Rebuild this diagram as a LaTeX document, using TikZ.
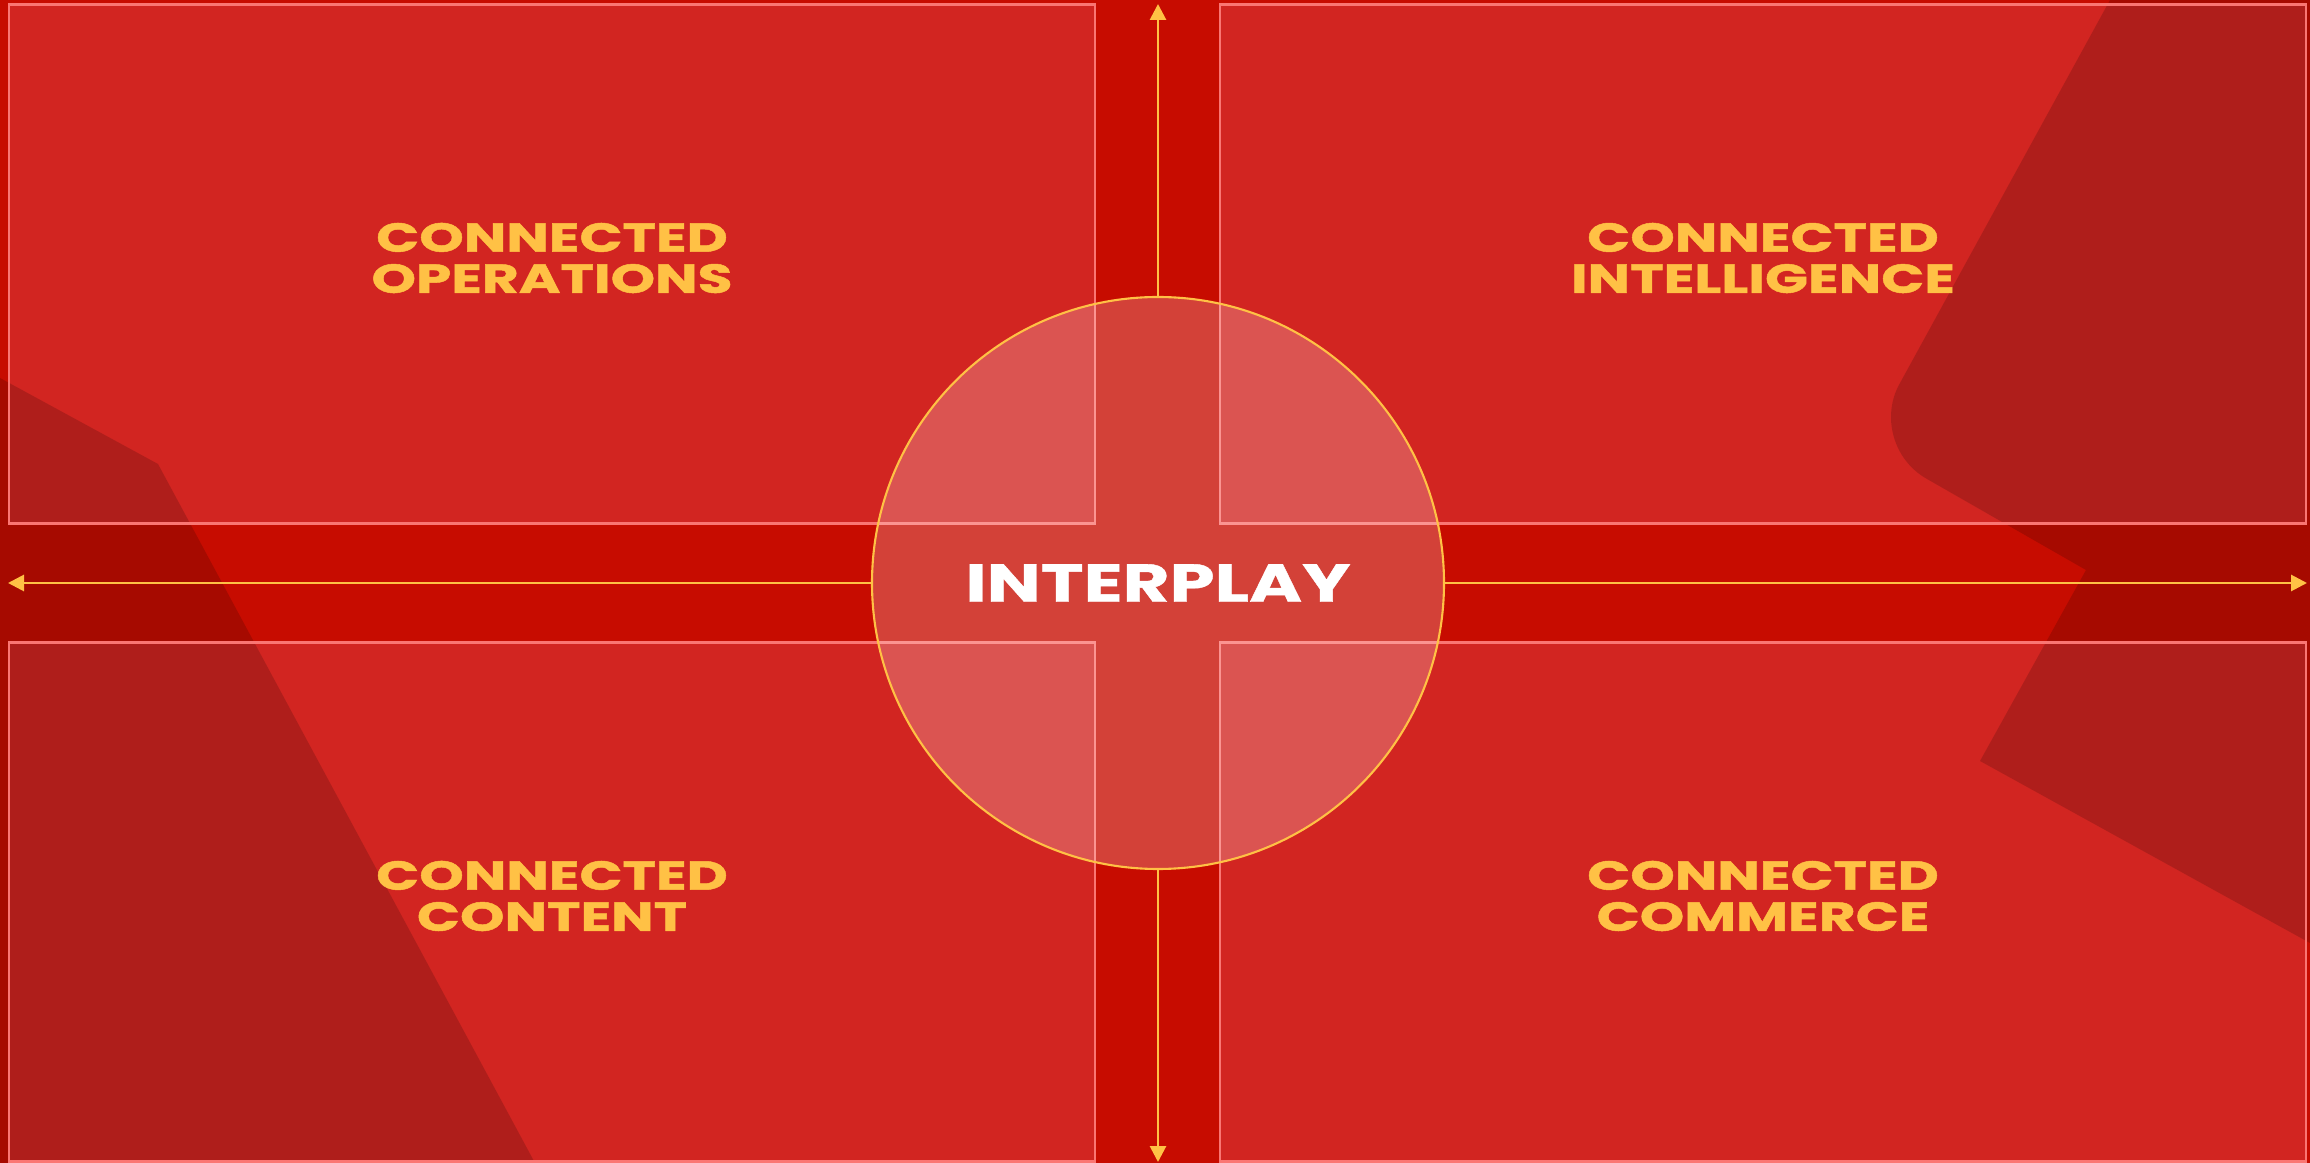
\documentclass[tikz,border=0pt]{standalone}
\usepackage{xcolor}
\usepackage{fontspec}
\usepackage{tikz}
\usetikzlibrary{arrows.meta, backgrounds}
\newfontfamily\panelfont{Poppins}[FakeStretch=1.40, FakeBold=1.2]
\newfontfamily\hubfont{Poppins}[FakeStretch=1.35, FakeBold=0.8]
\definecolor{basered}{RGB}{199, 12, 0}
\definecolor{panelred}{RGB}{210, 37, 33}
\definecolor{edgepink}{RGB}{250, 118, 115}
\definecolor{gold}{RGB}{255, 193, 69}
\tikzset{
    panel/.style = {rectangle, draw=edgepink, line width=0.7pt, minimum width=108.6mm, minimum height=51.9mm},
    paneltext/.style = {align=center, text=gold, font=\panelfont\bfseries\fontsize{11.5}{11.7}\selectfont},
    hub/.style = {circle, draw=gold, line width=0.6pt, fill=white, fill opacity=0.22, text opacity=1, minimum size=57.2mm, inner sep=0pt, text=white, font=\hubfont\bfseries\fontsize{15.2}{18}\selectfont},
    arrow/.style = {draw=gold, line width=0.8pt, -{Triangle[length=1.6mm, width=1.6mm]}},
    darkpatch/.style = {fill=black, fill opacity=0.165}
}

\begin{document}
\begin{tikzpicture}[x=0.1mm, y=-0.1mm]
\useasboundingbox (0,0) rectangle (2310,1163);
\node (A) [panel] at (552,264) {};
\node (B) [panel] at (1763,264) {};
\node (C) [panel] at (552,902) {};
\node (D) [panel] at (1763,902) {};
\node (A1) [paneltext] at ([yshift=0.6mm]A.center) {CONNECTED\\OPERATIONS};
\node (B1) [paneltext] at ([yshift=0.6mm]B.center) {CONNECTED\\INTELLIGENCE};
\node (C1) [paneltext] at ([yshift=0.6mm]C.center) {CONNECTED\\CONTENT};
\node (D1) [paneltext] at ([yshift=0.6mm]D.center) {CONNECTED\\COMMERCE};
\node (E) [hub] at (1158,583) {INTERPLAY};

\coordinate (N) at (1158,4);
\coordinate (S) at (1158,1162);
\coordinate (W) at (8,583);
\coordinate (O) at (2307,583);

\draw [arrow] (E) -- (N);
\draw [arrow] (E) -- (S);
\draw [arrow] (E) -- (W);
\draw [arrow] (E) -- (O);

\begin{scope}[on background layer]
\fill [basered] (0,0) rectangle (2310,1163);
\foreach \p in {A,B,C,D}
    \fill [panelred] (\p.south west) rectangle (\p.north east);
\fill [darkpatch] (0,378) -- (158,464) -- (535,1163) -- (0,1163) -- cycle;
\fill [darkpatch] (2310,0) -- (2110,0) -- (1900,383) .. controls (1881,416) and (1893,460) .. (1927,479) -- (2086,570) -- (1980,761) -- (2310,943) -- cycle;
\end{scope}
\end{tikzpicture}
\end{document}
